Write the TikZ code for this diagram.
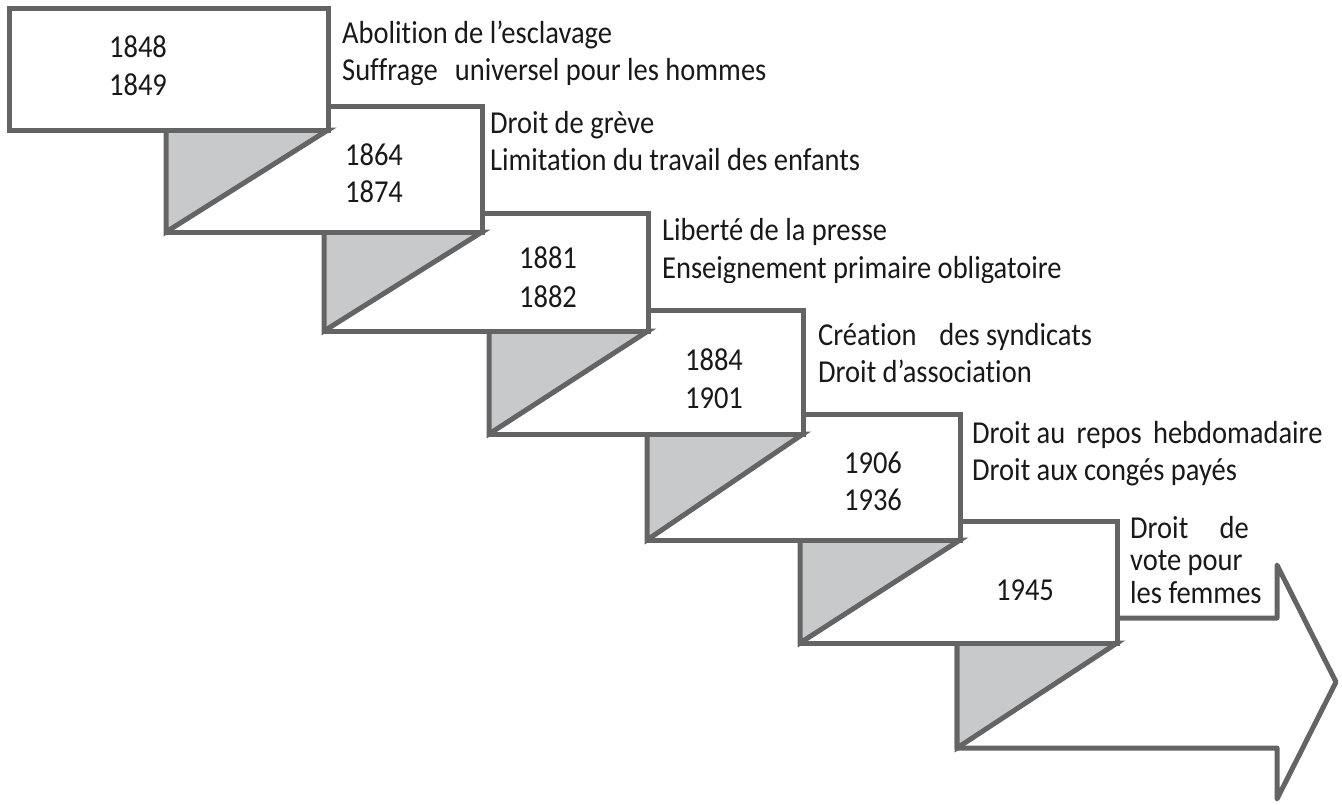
\documentclass[tikz,border=0pt]{standalone}
\usepackage{graphicx}
\usepackage{fontspec}
\setmainfont{Carlito}[Ligatures=NoCommon]
\definecolor{edge}{RGB}{100,100,100}
\definecolor{shade}{RGB}{200,201,203}
\definecolor{ink}{RGB}{25,25,25}
\newcommand{\tall}[1]{\scalebox{1}[1.12]{#1}}
\tikzset{
  stepbox/.style={draw=edge, line width=5pt, fill=white},
  shadetri/.style={draw=edge, line width=5pt, fill=shade},
  yr/.style={anchor=base, inner sep=0pt, text=ink, font=\fontsize{28.5}{32}\selectfont},
  desc/.style={anchor=base west, inner sep=0pt, text=ink, font=\fontsize{28.5}{32}\selectfont},
}
\begin{document}
\begin{tikzpicture}[x=1pt,y=-1pt]
\useasboundingbox (0,0) rectangle (1342,804);
\fill[white] (0,0) rectangle (1342,804);
% arrow and steps, back to front
\draw[stepbox, line join=round] (957,618) -- (1277,618) -- (1277,565) -- (1336,682) -- (1277,799) -- (1277,748) -- (957,748) -- cycle;
\draw[shadetri] (957,643) -- (957,748) -- (1117,643) -- cycle;
\draw[stepbox] (800,521) rectangle (1117,643);
\draw[shadetri] (800,540) -- (800,643) -- (960,540) -- cycle;
\draw[stepbox] (647,414) rectangle (960,540);
\draw[shadetri] (647,434) -- (647,540) -- (803,434) -- cycle;
\draw[stepbox] (489,310) rectangle (803,434);
\draw[shadetri] (489,331) -- (489,434) -- (648,331) -- cycle;
\draw[stepbox] (324,213) rectangle (648,331);
\draw[shadetri] (324,232) -- (324,331) -- (482,232) -- cycle;
\draw[stepbox] (166,106) rectangle (482,232);
\draw[shadetri] (166,130) -- (166,232) -- (328,130) -- cycle;
\draw[stepbox] (9,8) rectangle (328,130);
% years
\node[yr] (y1a) at (138,57) {\tall{1848}};
\node[yr] (y1b) at (138,95) {\tall{1849}};
\node[yr] (y2a) at (374,165) {\tall{1864}};
\node[yr] (y2b) at (374,202) {\tall{1874}};
\node[yr] (y3a) at (548,268) {\tall{1881}};
\node[yr] (y3b) at (548,307) {\tall{1882}};
\node[yr] (y4a) at (714,370) {\tall{1884}};
\node[yr] (y4b) at (714,408) {\tall{1901}};
\node[yr] (y5a) at (873,473) {\tall{1906}};
\node[yr] (y5b) at (873,510) {\tall{1936}};
\node[yr] (y6a) at (1025,600) {\tall{1945}};
% descriptions
\node[desc] (d1a) at (342,43) {\tall{Abolition de l’esclavage}};
\begin{scope}
\clip (330,50) rectangle (900,84);
\node[desc] (d1b) at (342,80) {\tall{Suffrage\hspace{0.6em}universel pour les hommes}};
\end{scope}
\node[desc] (d2a) at (490,133) {\tall{Droit de grève}};
\node[desc] (d2b) at (490,170) {\tall{Limitation du travail des enfants}};
\node[desc] (d3a) at (662,240) {\tall{Liberté de la presse}};
\begin{scope}
\clip (650,250) rectangle (1200,282);
\node[desc] (d3b) at (662,278) {\tall{Enseignement primaire obligatoire}};
\end{scope}
\node[desc] (d4a) at (818,345) {\tall{Création\hspace{0.8em}des syndicats}};
\node[desc] (d4b) at (818,382) {\tall{Droit d’association}};
\node[desc] (d5a) at (972,443) {\tall{Droit au\hspace{0.4em}repos\hspace{0.4em}hebdomadaire}};
\node[desc] (d5b) at (972,480) {\tall{Droit aux congés payés}};
\node[desc] (d6a) at (1130,538) {\tall{Droit\hspace{1.1em}de}};
\node[desc] (d6b) at (1130,570) {\tall{vote pour}};
\node[desc] (d6c) at (1130,603) {\tall{les femmes}};
\end{tikzpicture}
\end{document}
